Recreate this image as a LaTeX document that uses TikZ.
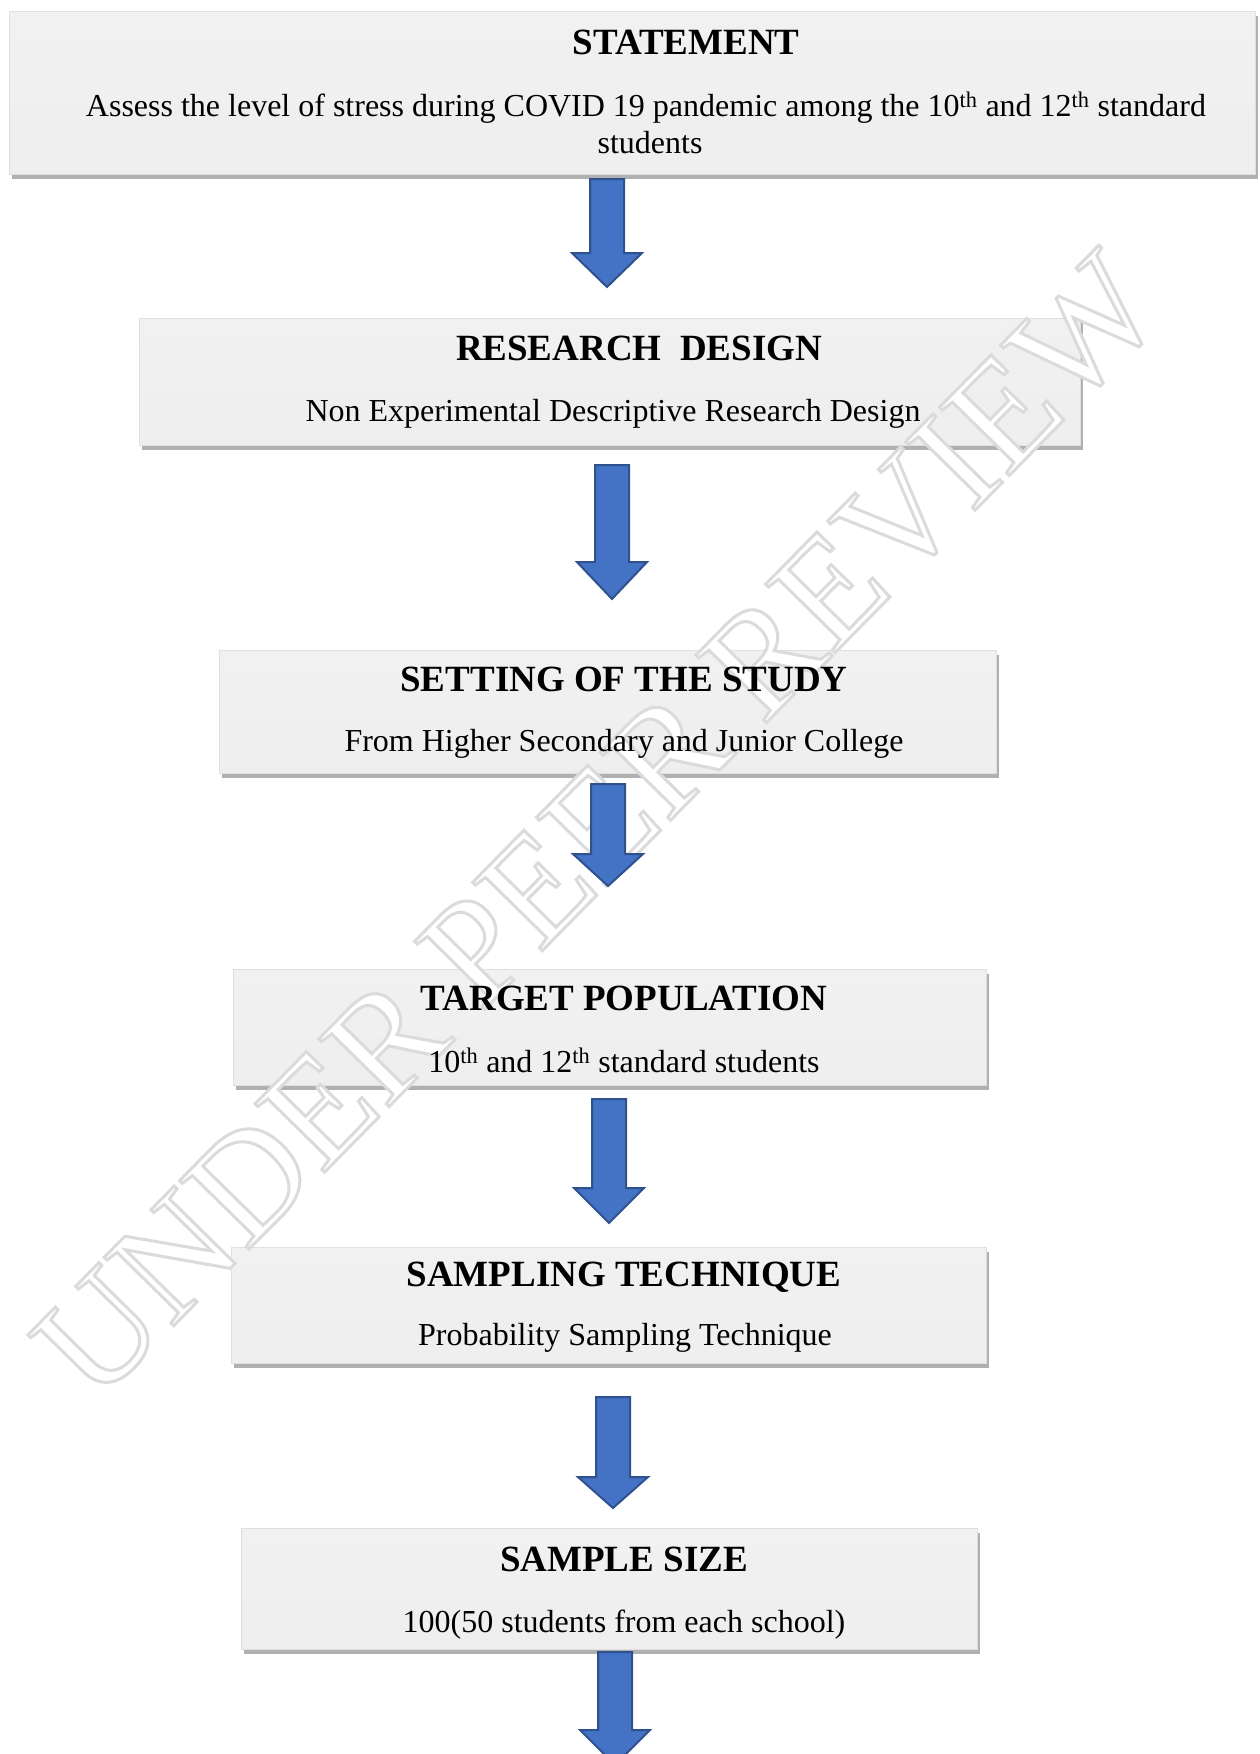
\documentclass[tikz,border=0pt]{standalone}
\usepackage{fontspec}
\setmainfont{Liberation Serif}
\usetikzlibrary{shadows}
\definecolor{arrowblue}{RGB}{68,114,196}
\definecolor{arrowedge}{RGB}{47,82,143}
\newcommand{\flowarrow}[4]{%
\draw[blockarrow] (#1-17,#2) -- (#1+17,#2) -- (#1+17,#3) -- (#1+35,#3) -- (#1,#4) -- (#1-35,#3) -- (#1-17,#3) -- cycle;}
\begin{document}
\begin{tikzpicture}[x=1pt, y=-1pt,
  flowbox/.style={rectangle, draw=gray!25, line width=0.8, shading=axis, top color=gray!11, middle color=gray!21, bottom color=gray!13, drop shadow={shadow xshift=3pt, shadow yshift=-5pt, fill=gray!62, opacity=1}},
  titletext/.style={font=\fontsize{37}{40}\selectfont\bfseries, inner sep=0},
  bodytext/.style={font=\fontsize{32}{36}\selectfont, inner sep=0, align=center},
  blockarrow/.style={fill=arrowblue, draw=arrowedge, line width=2, line join=miter},
  watermark/.style={font=\fontsize{149}{150}\selectfont, text=gray!28, rotate=45.5, inner sep=0}]
\useasboundingbox[fill=white] (0,0) rectangle (1260,1754);
\node[flowbox, minimum width=1246, minimum height=163] (box0) at (632,92.5){};
\node[flowbox, minimum width=941, minimum height=127] (box1) at (609.5,381.5){};
\node[flowbox, minimum width=777, minimum height=123] (box2) at (607.5,711.5){};
\node[flowbox, minimum width=753, minimum height=116] (box3) at (609.5,1027){};
\node[flowbox, minimum width=755, minimum height=116] (box4) at (608.5,1305){};
\node[flowbox, minimum width=736, minimum height=121] (box5) at (609,1588.5){};
\node[watermark] (wm) at (598,826){\special{pdf:literal direct 2 Tr 3 w 1 g}UNDER PEER REVIEW\special{pdf:literal direct 0 Tr}};
\node[titletext] (title0) at (686,42){STATEMENT};
\node[bodytext] (body0) at (646,108){Assess the level of stress during COVID 19 pandemic among the 10\textsuperscript{th} and 12\textsuperscript{th} standard};
\node[bodytext] (body0b) at (650,143){students};
\node[titletext] (title1) at (639,348){RESEARCH\ \ DESIGN};
\node[bodytext] (body1) at (613,414){Non Experimental Descriptive Research Design};
\node[titletext] (title2) at (624,679){SETTING OF THE STUDY};
\node[bodytext] (body2) at (624,744){From Higher Secondary and Junior College};
\node[titletext] (title3) at (624,998){TARGET POPULATION};
\node[bodytext] (body3) at (624,1060){10\textsuperscript{th} and 12\textsuperscript{th} standard students};
\node[titletext] (title4) at (624,1277){SAMPLING TECHNIQUE};
\node[bodytext] (body4) at (625,1338){Probability Sampling Technique};
\node[titletext] (title5) at (624,1559){SAMPLE SIZE};
\node[bodytext] (body5) at (624,1625){100(50 students from each school)};
\flowarrow{607}{179}{253}{287}
\flowarrow{612}{465}{562}{599}
\flowarrow{608}{784}{854}{886}
\flowarrow{609}{1099}{1188}{1223}
\flowarrow{613}{1397}{1477}{1508}
\flowarrow{615}{1652}{1730}{1765}
\end{tikzpicture}
\end{document}
